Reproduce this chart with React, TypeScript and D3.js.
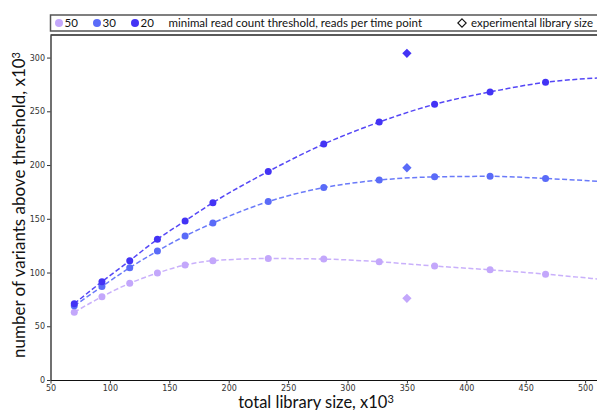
import * as d3 from "d3";
import { useEffect, useRef } from "react";

// total library size, x10^3
const libSize = [70, 93.3, 116.7, 140, 163.3, 186.7, 233.3, 280, 326.7, 373.3, 420, 466.7];
// variants above threshold, x10^3
const thr50 = [63, 77.5, 90, 99.5, 107, 111, 113, 112.5, 110, 106, 102.5, 98.5];
const thr30 = [69, 87, 104.5, 120, 134, 146, 166, 179, 186, 189, 189.5, 187.5];
const thr20 = [71, 91.5, 111, 131, 148, 165, 194, 219.5, 240, 256.5, 268, 277];
// where the fitted curves leave the plot on the right
const fitEndX = 510;
const fitEnd = [94, 185, 281];
// experimental library size
const expSize = 350;
const expValues = [76, 197.5, 304];

const thresholds = ["50", "30", "20"];
const colors = ["#c3a7fb", "#5a6bf8", "#4333f5"];
const xTicks = [50, 100, 150, 200, 250, 300, 350, 400, 450, 500];
const yTicks = [0, 50, 100, 150, 200, 250, 300];

const W = 597;
const H = 410;
const labelFont = "Lato, 'Open Sans', sans-serif";

const App = () => {
    const ref = useRef(null);

    useEffect(() => {
        const svg = d3.select(ref.current);
        svg.selectAll("*").remove();

        const margin = { top: 35, bottom: 30, left: 50.5 };
        const x = d3.scaleLinear().domain([50, fitEndX]).range([margin.left, W]);
        const y = d3.scaleLinear().domain([0, 321]).range([H - margin.bottom, margin.top]);

        const series = [thr50, thr30, thr20];

        // axes
        const xAxis = svg.append("g")
            .attr("transform", `translate(0, ${H - margin.bottom})`)
            .call(d3.axisBottom(x).tickValues(xTicks).tickSize(3.5).tickSizeOuter(0).tickPadding(1.5));
        const yAxis = svg.append("g")
            .attr("transform", `translate(${margin.left}, 0)`)
            .call(d3.axisLeft(y).tickValues(yTicks).tickSize(3.5).tickSizeOuter(0).tickPadding(2));
        [xAxis, yAxis].forEach(a => {
            a.selectAll("text")
                .style("font-family", "'DejaVu Sans', sans-serif")
                .style("font-size", "8px")
                .style("fill", "#333");
            a.select(".domain").attr("stroke", "#111").attr("stroke-width", 1.2);
            a.selectAll(".tick line").attr("stroke", "#333");
        });

        // top spine
        svg.append("line")
            .attr("x1", margin.left).attr("x2", W)
            .attr("y1", margin.top).attr("y2", margin.top)
            .attr("stroke", "#222").attr("stroke-width", 1.5);

        // fitted curves
        const line = d3.line()
            .x(d => x(d[0]))
            .y(d => y(d[1]))
            .curve(d3.curveMonotoneX);
        series.forEach((vals, i) => {
            const pts = libSize.map((s, j) => [s, vals[j]]);
            pts.push([fitEndX, fitEnd[i]]);
            svg.append("path")
                .attr("d", line(pts))
                .attr("fill", "none")
                .attr("stroke", colors[i])
                .attr("stroke-opacity", 0.9)
                .attr("stroke-width", 1.5)
                .attr("stroke-dasharray", "5,2.5");
        });

        // points
        series.forEach((vals, i) => {
            svg.selectAll(`.dot-${i}`)
                .data(vals)
                .enter()
                .append("circle")
                .attr("cx", (d, j) => x(libSize[j]))
                .attr("cy", d => y(d))
                .attr("r", 3.5)
                .style("fill", colors[i]);
        });

        // experimental diamonds
        const diamond = d3.symbol().type(d3.symbolDiamond2).size(55);
        expValues.forEach((v, i) => {
            svg.append("path")
                .attr("d", diamond())
                .attr("transform", `translate(${x(expSize)}, ${y(v)})`)
                .style("fill", colors[i]);
        });

        // axis labels
        const xl = svg.append("text")
            .attr("x", 316).attr("y", 407.5)
            .attr("text-anchor", "middle")
            .style("font-family", labelFont).style("font-size", "16.5px").style("fill", "#111")
            .text("total library size, x10");
        xl.append("tspan").attr("dy", "-0.45em").style("font-size", "11px").text("3");

        const yl = svg.append("text")
            .attr("transform", `translate(25, 205) rotate(-90)`)
            .attr("text-anchor", "middle")
            .style("font-family", labelFont).style("font-size", "17px").style("fill", "#111")
            .text("number of variants above threshold, x10");
        yl.append("tspan").attr("dy", "-0.45em").style("font-size", "11px").text("3");

        // legend
        const lg = svg.append("g");
        lg.append("rect")
            .attr("x", 50.5).attr("y", 15)
            .attr("width", W).attr("height", 16)
            .attr("fill", "white")
            .attr("stroke", "#555").attr("stroke-width", 1.5);
        const lgFont = (sel) => sel.style("font-family", labelFont).style("font-size", "11.5px").style("fill", "#111");
        const lgX = [59, 97, 135];
        thresholds.forEach((t, i) => {
            lg.append("circle").attr("cx", lgX[i]).attr("cy", 23).attr("r", 4).style("fill", colors[i]);
            lg.append("text").attr("x", lgX[i] + 5.5).attr("y", 27).text(t).call(lgFont);
        });
        lg.append("text").attr("x", 168.5).attr("y", 27)
            .text("minimal read count threshold, reads per time point").call(lgFont);
        lg.append("path")
            .attr("d", d3.symbol().type(d3.symbolDiamond2).size(45)())
            .attr("transform", "translate(462, 23)")
            .attr("fill", "white").attr("stroke", "#111").attr("stroke-width", 1.1);
        lg.append("text").attr("x", 471).attr("y", 27)
            .text("experimental library size").call(lgFont);
    }, []);

    return (
        <svg ref={ref} width={W} height={H}
            style={{ position: "absolute", left: 0, top: 0, display: "block", background: "white" }}></svg>
    );
};

export default App;
